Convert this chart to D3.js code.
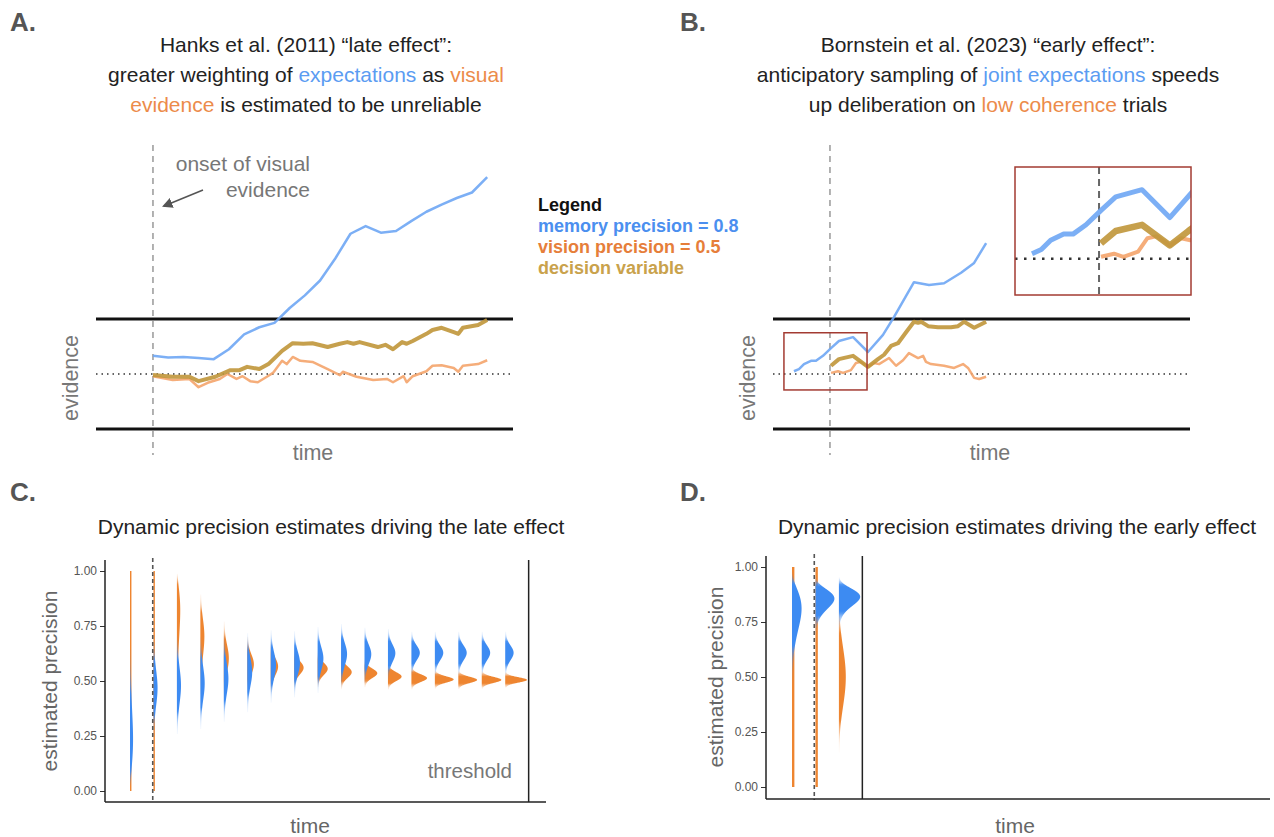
<!DOCTYPE html>
<html>
<head>
<meta charset="utf-8">
<script src="https://cdn.jsdelivr.net/npm/d3@7"></script>
<style>
  body { margin: 0; background: #fff; }
  svg { display: block; font-family: "Liberation Sans", Arial, sans-serif; }
</style>
</head>
<body>
<div id="fig"></div>
<script>
// ---- panel A: late effect (time steps, evidence in threshold units) ----
var blueA_t = [0,1,2,3,4,5,6,7,8,9,10,11,12,13,14,15,16,17,18,19,20,21,22];
var blueA_v = [0.33,0.30,0.31,0.29,0.27,0.45,0.72,0.85,0.93,1.2,1.43,1.7,2.1,2.55,2.69,2.57,2.6,2.78,2.95,3.08,3.2,3.3,3.58];
var goldA_t = [0,1.3,2.4,3.0,4.1,5.1,5.7,6.2,7.0,7.6,8.5,9.2,9.9,10.5,11.5,12.3,12.8,13.2,13.6,14.8,15.3,15.8,16.4,16.7,17.1,18.0,18.4,19.0,19.8,20.1,20.4,21.4,22.0];
var goldA_v = [-0.02,-0.05,-0.05,-0.13,-0.05,0.07,0.07,0.13,0.09,0.18,0.42,0.56,0.55,0.56,0.49,0.55,0.58,0.55,0.58,0.49,0.53,0.45,0.58,0.55,0.60,0.73,0.80,0.84,0.76,0.73,0.84,0.89,0.98];
var orangeA_t = [0,1.3,2.4,3.0,3.6,4.4,4.9,5.5,5.9,6.4,6.9,7.5,7.9,8.5,8.8,9.2,9.7,10.5,11.5,12.3,12.5,13.4,14.5,15.4,15.8,16.5,16.7,17.1,18.0,18.4,19.0,19.8,20.1,20.4,21.4,22.0];
var orangeA_v = [-0.04,-0.11,-0.09,-0.24,-0.16,-0.09,0.0,-0.09,-0.04,-0.13,-0.15,-0.05,0.02,0.24,0.18,0.31,0.24,0.22,0.09,-0.02,0.04,-0.05,-0.11,-0.09,-0.15,-0.04,-0.15,-0.04,0.05,0.15,0.16,0.11,0.04,0.15,0.18,0.25];

// ---- panel B: early effect ----
var blueB_t = [-2.37,-2.04,-1.71,-1.25,-0.92,-0.46,0.07,0.59,1.52,2.5,3.49,4.22,5.53,6.52,7.51,8.63,9.49,10.28];
var blueB_v = [0.05,0.09,0.18,0.24,0.24,0.33,0.47,0.6,0.67,0.4,0.71,1.04,1.67,1.62,1.65,1.84,2.02,2.38];
var goldB_t = [0.07,0.59,1.52,2.5,3.16,3.56,4.02,4.48,5.01,5.53,5.8,6.0,6.46,7.11,7.97,8.43,8.83,9.49,10.28];
var goldB_v = [0.15,0.27,0.33,0.13,0.27,0.35,0.51,0.56,0.76,0.95,0.93,0.95,0.87,0.85,0.85,0.87,0.95,0.84,0.95];
var orangeB_t = [0.07,0.53,0.86,1.38,1.71,2.04,2.5,2.9,3.23,3.89,4.35,4.81,5.2,5.8,6.13,6.32,6.65,7.51,8.17,8.76,9.09,9.49,9.82,10.28];
var orangeB_v = [0.02,0.05,0.02,0.07,0.2,0.22,0.13,0.2,0.18,0.29,0.15,0.25,0.38,0.29,0.33,0.22,0.18,0.15,0.11,0.18,0.11,-0.07,-0.09,-0.05];

// zoom window in B and the inset's view
var zoomBoxTime = [-3.03, 2.44];
var zoomBoxEvidence = [-0.29, 0.75];
var insetTime = [-2.97, 3.25];
var insetEvidence = [-0.35, 0.89];

// ---- panel C: precision estimates (mean, sd of beta) per time step ----
var stepsC = [0,1,2,3,4,5,6,7,8,9,10,11,12,13,14,15,16];
var memMeanC = [0.27,0.47,0.48,0.49,0.51,0.54,0.57,0.58,0.60,0.62,0.62,0.625,0.627,0.627,0.627,0.627,0.627];
var memSdC = [0.11,0.075,0.075,0.07,0.065,0.06,0.055,0.05,0.05,0.048,0.042,0.038,0.033,0.033,0.033,0.033,0.033];
var visMeanC = [0.5,0.5,0.78,0.69,0.60,0.575,0.565,0.56,0.555,0.54,0.535,0.52,0.513,0.507,0.505,0.505,0.505];
var visSdC = [0.289,0.289,0.10,0.077,0.059,0.043,0.038,0.029,0.027,0.0255,0.021,0.0196,0.017,0.014,0.014,0.0134,0.012];

// ---- panel D ----
var stepsD = [0,1,2];
var memMeanD = [0.78,0.845,0.855];
var memSdD = [0.09,0.045,0.04];
var visMeanD = [0.5,0.5,0.5];
var visSdD = [0.289,0.289,0.12];

var precisionTicks = [0, 0.25, 0.5, 0.75, 1];

var W = 1274, H = 837;
var cBlueLine = "#6EA6F4", cOrangeLine = "#F4A46C", cGoldLine = "#C0963A";
var cBlueV = "#3D8BF2", cOrangeV = "#EE8530";

var svg = d3.select("#fig").append("svg").attr("width", W).attr("height", H);
var defs = svg.append("defs");

defs.append("marker")
    .attr("id", "arrow").attr("viewBox", "0 0 10 10")
    .attr("refX", 8).attr("refY", 5)
    .attr("markerWidth", 7).attr("markerHeight", 7)
    .attr("orient", "auto-start-reverse")
    .append("path").attr("d", "M0,0 L10,5 L0,10 z").attr("fill", "#555");

function zip(ts, vs) { return ts.map(function(t, i) { return [t, vs[i]]; }); }

// panel letters + titles
function letter(txt, x, y) {
  svg.append("text").attr("x", x).attr("y", y).text(txt)
    .attr("font-size", 26).attr("font-weight", "bold").attr("fill", "#555");
}
letter("A.", 10, 31); letter("B.", 680, 31); letter("C.", 10, 501); letter("D.", 680, 501);

function titleLines(cx, lines) {
  lines.forEach(function(parts, i) {
    var t = svg.append("text").attr("x", cx).attr("y", 52 + i * 30)
      .attr("text-anchor", "middle").attr("font-size", 21).attr("fill", "#222");
    parts.forEach(function(p) {
      t.append("tspan").text(p[0]).attr("fill", p[1] || "#222");
    });
  });
}
var tBlue = "#5B9CF2", tOrange = "#EC8B4A";
titleLines(306, [
  [["Hanks et al. (2011) \u201Clate effect\u201D:"]],
  [["greater weighting of "], ["expectations", tBlue], [" as "], ["visual", tOrange]],
  [["evidence", tOrange], [" is estimated to be unreliable"]]
]);
titleLines(988, [
  [["Bornstein et al. (2023) \u201Cearly effect\u201D:"]],
  [["anticipatory sampling of "], ["joint expectations", tBlue], [" speeds"]],
  [["up deliberation on "], ["low coherence", tOrange], [" trials"]]
]);

// ---- evidence panels ----
function evidencePanel(left, series) {
  var x = d3.scaleLinear().domain([-3.75, 23.7]).range([left, left + 417]);
  var y = d3.scaleLinear().domain([-1, 1]).range([429, 319]);
  var g = svg.append("g");
  g.append("line").attr("x1", x(0)).attr("x2", x(0)).attr("y1", 145).attr("y2", 455)
    .attr("stroke", "#999").attr("stroke-width", 1.5).attr("stroke-dasharray", "6,5");
  [-1, 1].forEach(function(v) {
    g.append("line").attr("x1", x.range()[0]).attr("x2", x.range()[1])
      .attr("y1", y(v)).attr("y2", y(v)).attr("stroke", "#111").attr("stroke-width", 3);
  });
  g.append("line").attr("x1", x.range()[0]).attr("x2", x.range()[1])
    .attr("y1", y(0)).attr("y2", y(0)).attr("stroke", "#333")
    .attr("stroke-width", 1.5).attr("stroke-dasharray", "1.5,4");
  var line = d3.line().x(function(d) { return x(d[0]); }).y(function(d) { return y(d[1]); });
  series.forEach(function(s) {
    g.append("path").attr("d", line(s.data)).attr("fill", "none")
      .attr("stroke", s.color).attr("stroke-width", s.w).attr("stroke-opacity", 0.9)
      .attr("stroke-linejoin", "round");
  });
  g.append("text").attr("transform", "translate(" + (left - 18) + ",378) rotate(-90)")
    .attr("text-anchor", "middle").attr("font-size", 21.5).attr("fill", "#777").text("evidence");
  g.append("text").attr("x", left + 217).attr("y", 460).attr("text-anchor", "middle")
    .attr("font-size", 21.5).attr("fill", "#777").text("time");
  return { x: x, y: y, g: g };
}

var pA = evidencePanel(96, [
  { data: zip(blueA_t, blueA_v), color: cBlueLine, w: 2.5 },
  { data: zip(orangeA_t, orangeA_v), color: cOrangeLine, w: 2.5 },
  { data: zip(goldA_t, goldA_v), color: cGoldLine, w: 4 }
]);

// annotation in A
svg.append("text").attr("x", 310).attr("y", 171).attr("text-anchor", "end")
  .attr("font-size", 21).attr("fill", "#777").text("onset of visual");
svg.append("text").attr("x", 310).attr("y", 197).attr("text-anchor", "end")
  .attr("font-size", 21).attr("fill", "#777").text("evidence");
svg.append("line").attr("x1", 203).attr("y1", 190).attr("x2", 164).attr("y2", 206)
  .attr("stroke", "#555").attr("stroke-width", 1.5).attr("marker-end", "url(#arrow)");

var pB = evidencePanel(773, [
  { data: zip(blueB_t, blueB_v), color: cBlueLine, w: 2.5 },
  { data: zip(orangeB_t, orangeB_v), color: cOrangeLine, w: 2.5 },
  { data: zip(goldB_t, goldB_v), color: cGoldLine, w: 4 }
]);

// zoom box in B
var boxColor = "#A33B32";
pB.g.append("rect")
  .attr("x", pB.x(zoomBoxTime[0])).attr("y", pB.y(zoomBoxEvidence[1]))
  .attr("width", pB.x(zoomBoxTime[1]) - pB.x(zoomBoxTime[0]))
  .attr("height", pB.y(zoomBoxEvidence[0]) - pB.y(zoomBoxEvidence[1]))
  .attr("fill", "none").attr("stroke", boxColor).attr("stroke-width", 1.5);

// inset
var ix = d3.scaleLinear().domain(insetTime).range([1015, 1191]);
var iy = d3.scaleLinear().domain(insetEvidence).range([295, 167]);
defs.append("clipPath").attr("id", "insetClip").append("rect")
  .attr("x", 1015).attr("y", 167).attr("width", 176).attr("height", 128);
var ig = svg.append("g").attr("clip-path", "url(#insetClip)");
ig.append("line").attr("x1", ix(0)).attr("x2", ix(0)).attr("y1", 167).attr("y2", 295)
  .attr("stroke", "#666").attr("stroke-width", 2).attr("stroke-dasharray", "7,5");
ig.append("line").attr("x1", 1015).attr("x2", 1191).attr("y1", iy(0)).attr("y2", iy(0))
  .attr("stroke", "#333").attr("stroke-width", 2.5).attr("stroke-dasharray", "2.5,6.5");
var iline = d3.line().x(function(d) { return ix(d[0]); }).y(function(d) { return iy(d[1]); });
[[zip(blueB_t, blueB_v), cBlueLine, 5], [zip(orangeB_t, orangeB_v), cOrangeLine, 4],
 [zip(goldB_t, goldB_v), cGoldLine, 6.5]].forEach(function(s) {
  ig.append("path").attr("d", iline(s[0])).attr("fill", "none").attr("stroke", s[1])
    .attr("stroke-width", s[2]).attr("stroke-opacity", 0.9).attr("stroke-linejoin", "round");
});
svg.append("rect").attr("x", 1015).attr("y", 167).attr("width", 176).attr("height", 128)
  .attr("fill", "none").attr("stroke", boxColor).attr("stroke-width", 1.5);

// legend
var legend = [["Legend", "#111"], ["memory precision = 0.8", "#4B8FEF"],
              ["vision precision = 0.5", "#E67E3A"], ["decision variable", "#C9A24C"]];
legend.forEach(function(l, i) {
  svg.append("text").attr("x", 538).attr("y", 211 + i * 21).text(l[0])
    .attr("font-size", 18).attr("font-weight", "bold").attr("fill", l[1]);
});

// ---- precision panels ----
function betaDensity(m, sd) {
  var c = m * (1 - m) / (sd * sd) - 1, a = m * c, b = (1 - m) * c;
  var N = 1500, pts = [], maxL = -Infinity;
  for (var i = 0; i < N; i++) {
    var p = (i + 0.5) / N;
    var l = (a - 1) * Math.log(p) + (b - 1) * Math.log(1 - p);
    pts.push([p, l]);
    if (l > maxL) maxL = l;
  }
  var sum = 0;
  pts.forEach(function(d) { d[1] = Math.exp(d[1] - maxL); sum += d[1]; });
  pts.forEach(function(d) { d[1] = d[1] / (sum / N); });
  pts.unshift([0, pts[0][1]]); pts.push([1, pts[pts.length - 1][1]]);
  return pts;
}

var gradId = 0;
function precisionPanel(o) {
  var x = d3.scaleLinear().domain([0, 1]).range([o.x0, o.x0 + o.step]);
  var y = d3.scaleLinear().domain([0, 1]).range([o.y0, o.y1]);
  var g = svg.append("g");

  var shapes = [];
  o.steps.forEach(function(t, i) {
    shapes.push({ t: t, d: betaDensity(o.visMean[i], o.visSd[i]), c: cOrangeV });
  });
  o.steps.forEach(function(t, i) {
    shapes.push({ t: t, d: betaDensity(o.memMean[i], o.memSd[i]), c: cBlueV });
  });
  var maxD = d3.max(shapes, function(s) { return d3.max(s.d, function(d) { return d[1]; }); });
  var k = o.maxWidth / maxD;

  shapes.forEach(function(s) {
    var peak = d3.max(s.d, function(d) { return d[1]; });
    var pts = s.d.filter(function(d) { return d[1] / peak > 0.01; });
    // vertical gradient so the tails fade out
    var id = "vg" + (gradId++);
    var grad = defs.append("linearGradient").attr("id", id)
      .attr("gradientUnits", "userSpaceOnUse")
      .attr("x1", 0).attr("x2", 0).attr("y1", y(0)).attr("y2", y(1));
    for (var j = 0; j <= 100; j++) {
      var p = j / 100;
      var idx = Math.min(s.d.length - 1, Math.round(p * (s.d.length - 1)));
      var op = Math.min(1, Math.pow(s.d[idx][1] / peak / 0.3, 0.8));
      grad.append("stop").attr("offset", p).attr("stop-color", s.c).attr("stop-opacity", op);
    }
    var area = d3.area()
      .y(function(d) { return y(d[0]); })
      .x0(x(s.t))
      .x1(function(d) { return x(s.t) + o.minWidth + k * d[1]; });
    g.append("path").attr("d", area(pts)).attr("fill", "url(#" + id + ")");
  });

  // onset (dashed) and threshold
  g.append("line").attr("x1", x(o.dashT)).attr("x2", x(o.dashT))
    .attr("y1", o.axisTop - 2).attr("y2", o.axisBottom + 1)
    .attr("stroke", "#555").attr("stroke-width", 1.6).attr("stroke-dasharray", "4,3");
  g.append("line").attr("x1", x(o.threshT)).attr("x2", x(o.threshT))
    .attr("y1", o.axisTop).attr("y2", o.axisBottom)
    .attr("stroke", "#222").attr("stroke-width", 1.5);

  // axes
  var axisX = o.axisLeft;
  var ax = g.append("g").attr("transform", "translate(" + axisX + ",0)")
    .call(d3.axisLeft(y).tickValues(precisionTicks).tickFormat(d3.format(".2f")).tickSize(5));
  ax.select(".domain").remove();
  ax.selectAll("line").attr("stroke", "#333");
  ax.selectAll("text").attr("fill", "#555").attr("font-size", 12)
    .attr("font-family", "'Liberation Sans', Arial, sans-serif");
  g.append("line").attr("x1", axisX).attr("x2", axisX).attr("y1", o.axisTop).attr("y2", o.axisBottom)
    .attr("stroke", "#222").attr("stroke-width", 1.5);
  g.append("line").attr("x1", axisX).attr("x2", o.axisRight).attr("y1", o.axisBottom).attr("y2", o.axisBottom)
    .attr("stroke", "#222").attr("stroke-width", 1.5);

  g.append("text").attr("transform", "translate(" + o.ylabX + "," + ((o.y0 + o.y1) / 2) + ") rotate(-90)")
    .attr("text-anchor", "middle").attr("dy", "0.35em").attr("font-size", 21).attr("fill", "#666")
    .text("estimated precision");
  g.append("text").attr("x", o.timeX).attr("y", 833).attr("text-anchor", "middle")
    .attr("font-size", 21).attr("fill", "#666").text("time");
  g.append("text").attr("x", o.titleX).attr("y", 534).attr("text-anchor", "middle")
    .attr("font-size", 21).attr("fill", "#222").text(o.title);
  return { x: x, y: y, g: g };
}

var pC = precisionPanel({
  steps: stepsC, memMean: memMeanC, memSd: memSdC, visMean: visMeanC, visSd: visSdC,
  x0: 130, step: 23.45, y0: 791, y1: 571, axisLeft: 105, axisRight: 546,
  axisTop: 560, axisBottom: 802, dashT: 0.97, threshT: 17, maxWidth: 21, minWidth: 0.8,
  ylabX: 50, timeX: 310, titleX: 331,
  title: "Dynamic precision estimates driving the late effect"
});
pC.g.append("text").attr("x", 512).attr("y", 778).attr("text-anchor", "end")
  .attr("font-size", 20.5).attr("fill", "#777").text("threshold");

var pD = precisionPanel({
  steps: stepsD, memMean: memMeanD, memSd: memSdD, visMean: visMeanD, visSd: visSdD,
  x0: 792, step: 23.45, y0: 787, y1: 567, axisLeft: 766, axisRight: 1270,
  axisTop: 556, axisBottom: 799, dashT: 0.95, threshT: 3, maxWidth: 21, minWidth: 0.3,
  ylabX: 716, timeX: 1015, titleX: 1017,
  title: "Dynamic precision estimates driving the early effect"
});
</script>
</body>
</html>
